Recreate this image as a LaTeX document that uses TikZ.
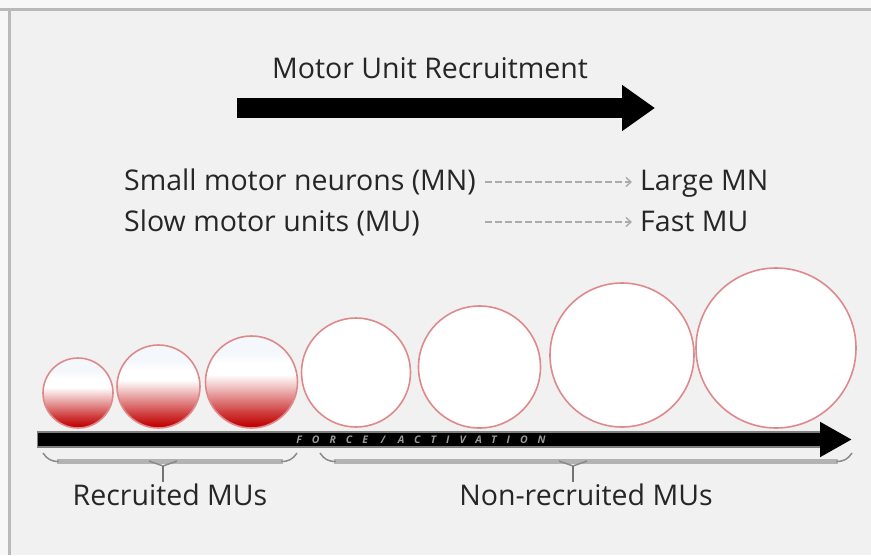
\documentclass[tikz,border=0pt]{standalone}
\usepackage{fontspec}
\setmainfont{Open Sans}
\newfontfamily\barfont[LetterSpace=95]{Open Sans}
\usetikzlibrary{arrows.meta}

\definecolor{bgc}{HTML}{F1F1F1}
\definecolor{outc}{HTML}{F7F7F7}
\definecolor{framec}{HTML}{B9B9B9}
\definecolor{txtc}{HTML}{262626}
\definecolor{dashc}{HTML}{ABABAB}
\definecolor{ringc}{HTML}{DE8A8D}
\definecolor{mured}{HTML}{C00000}
\definecolor{topc}{HTML}{F4F7FB}
\definecolor{bracec}{HTML}{B3B3B3}
\definecolor{bracetip}{HTML}{8A8A8A}

% recruited fibre shading: pale top, white band, red towards the bottom
\pgfdeclareverticalshading{mushade}{100bp}{%
  color(0bp)=(mured); color(26bp)=(mured);
  color(33bp)=(mured!78!white); color(41bp)=(mured!48!white);
  color(49bp)=(mured!18!white); color(54bp)=(white);
  color(60bp)=(white); color(66bp)=(topc); color(100bp)=(topc)}

\tikzset{
  plain/.style={inner sep=0pt, text=txtc, font=\fontsize{28.5}{34}\selectfont},
  titletext/.style={plain, anchor=base},
  linetext/.style={plain, anchor=base west},
  labeltext/.style={plain, anchor=base},
  dashline/.style={dashc, line width=1.6pt, dash pattern=on 7pt off 3pt,
    -{Straight Barb[length=5pt,width=9pt,line width=1.4pt]}},
  recruited/.style={circle, inner sep=0pt, draw=ringc, line width=1.6pt,
    shade, shading=mushade},
  idle/.style={circle, inner sep=0pt, draw=ringc, line width=1.6pt, fill=white},
  bartext/.style={inner sep=0pt, text=black!40,
    font=\barfont\fontsize{10.5}{12}\selectfont\bfseries\itshape},
  bracebar/.style={bracec, line width=5pt},
  braceend/.style={bracetip, line width=1.5pt},
  bracestem/.style={black!55, line width=2pt},
}

% curly grouping brace under the axis: left x, right x, stem x, name
\newcommand{\mubrace}[4]{%
  \coordinate (#4l) at (#1,453);
  \coordinate (#4r) at (#2,453);
  \coordinate (#4m) at (#3,466);
  \coordinate (#4s) at (#3,482);
  \draw[bracebar] (#1+14,461.5) -- (#2-14,461.5);
  \draw[braceend] (#4l) .. controls (#1+4,459) and (#1+8,461.5) .. (#1+16,461.5);
  \draw[braceend] (#4r) .. controls (#2-4,459) and (#2-8,461.5) .. (#2-16,461.5);
  \draw[braceend] (#3-14,461) -- (#4m) -- (#3+14,461);
  \draw[bracestem] (#4m) -- (#4s);
}

\begin{document}
\begin{tikzpicture}[x=1pt, y=-1pt]
\useasboundingbox (0,0) rectangle (871,555);
% page and frame
\fill[outc] (0,0) rectangle (871,555);
\fill[bgc] (9,9) rectangle (871,555);
\draw[framec, line width=3pt] (0,9.5) -- (871,9.5);
\draw[framec, line width=3pt] (9.5,9.5) -- (9.5,555);

% heading and main arrow
\node[titletext] (title) at (430,78) {Motor Unit Recruitment};
\coordinate (ra) at (237,108);
\coordinate (rb) at (655,108);
\draw[black, line width=20pt, -{Triangle[length=33pt,width=44pt]}] (ra) -- (rb);

% size principle lines
\node[linetext] (smn) at (124,190) {Small motor neurons (MN)};
\node[linetext] (lmn) at (640,190) {Large MN};
\node[linetext] (smu) at (124,231.5) {Slow motor units (MU)};
\node[linetext] (fmu) at (640,231.5) {Fast MU};
\coordinate (d1) at (485,182);
\coordinate (d2) at (485,222);
\draw[dashline, shorten >=8pt] (d1) -- (d1 -| lmn.west);
\draw[dashline, shorten >=8pt] (d2) -- (d2 -| fmu.west);

% motor units, smallest to largest
\node[recruited, minimum size=70pt]  (c1) at (78,393) {};
\node[recruited, minimum size=83pt]  (c2) at (158.5,386.5) {};
\node[recruited, minimum size=92pt]  (c3) at (251.5,382) {};
\node[idle, minimum size=109pt] (c4) at (356,372.5) {};
\node[idle, minimum size=122pt] (c5) at (479.5,367) {};
\node[idle, minimum size=144pt] (c6) at (622,355) {};
\node[idle, minimum size=160pt] (c7) at (776,348) {};

% force / activation axis
\coordinate (fa) at (38,439.5);
\coordinate (fb) at (852,439.5);
\fill[black!50] (37,431) rectangle (821,448);
\draw[black, line width=13pt, -{Triangle[length=32pt,width=33pt]}] (fa) -- (fb);
\node[bartext] (force) at (421,439.5) {FORCE / ACTIVATION};

% groupings
\mubrace{43}{297}{163}{ba}
\mubrace{320}{852}{573}{bb}
\node[labeltext] (rec) at (170,505) {Recruited MUs};
\node[labeltext] (non) at (586,505) {Non-recruited MUs};
\end{tikzpicture}
\end{document}
